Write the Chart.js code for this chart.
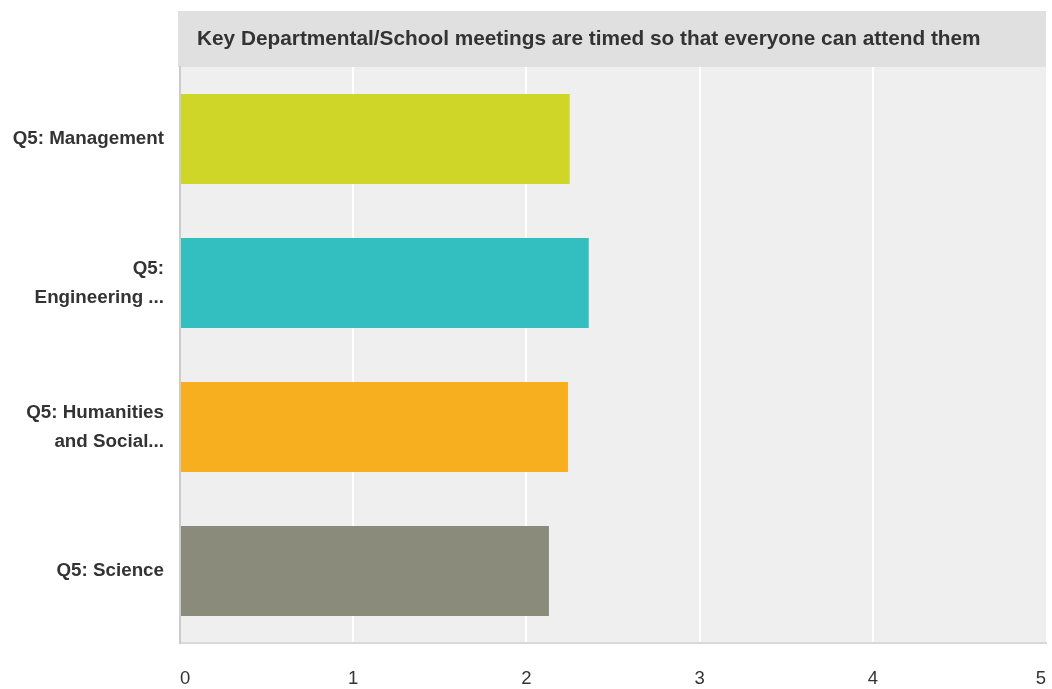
<!DOCTYPE html>
<html>
<head>
<meta charset="utf-8">
<script src="https://cdn.jsdelivr.net/npm/chart.js@4"></script>
<style>
  html, body { margin: 0; padding: 0; background: #fff; }
  #wrap { width: 1052px; height: 689px; }
</style>
</head>
<body>
<div id="wrap"><canvas id="myChart" width="1052" height="689"></canvas></div>
<script>
const chartTitle = 'Key Departmental/School meetings are timed so that everyone can attend them';
const categories = [
    ['Q5: Management'],
    ['Q5:', 'Engineering ...'],
    ['Q5: Humanities', 'and Social...'],
    ['Q5: Science']
];
const averages = [2.25, 2.36, 2.24, 2.13];
const xTicks = [0, 1, 2, 3, 4, 5];

const barColors = ['#cfd628', '#33bebf', '#f7af1f', '#8a8b7a'];
const fontFamily = '"Liberation Sans", Arial, Helvetica, sans-serif';

// grey title band + plot background, and keep the end tick labels inside the plot
const backdrop = {
    id: 'backdrop',
    beforeDraw(chart) {
        const { ctx, chartArea: a } = chart;
        ctx.save();
        ctx.fillStyle = '#e0e0e0';
        ctx.fillRect(a.left - 2, 11, a.right - a.left + 2, a.top - 11);
        ctx.fillStyle = '#efefef';
        ctx.fillRect(a.left, a.top, a.right - a.left, a.bottom - a.top);
        ctx.fillStyle = '#333333';
        ctx.font = 'bold 20.8px ' + fontFamily;
        ctx.textBaseline = 'middle';
        ctx.textAlign = 'left';
        ctx.fillText(chartTitle, a.left + 17, 39);
        ctx.restore();

        const items = chart.scales.x.getLabelItems(a);
        if (items.length) {
            items[0].options.textAlign = 'left';
            items[items.length - 1].options.textAlign = 'right';
        }
    }
};

document.addEventListener("DOMContentLoaded", function () {
    const ctx = document.getElementById('myChart').getContext('2d');

    new Chart(ctx, {
        type: 'bar',
        data: {
            labels: categories,
            datasets: [{
                data: averages,
                backgroundColor: barColors,
                borderWidth: 0,
                categoryPercentage: 1,
                barPercentage: 0.625
            }]
        },
        options: {
            indexAxis: 'y',
            responsive: false,
            animation: false,
            layout: { padding: { top: 67, right: 6, left: 0, bottom: 0 } },
            plugins: {
                legend: { display: false },
                tooltip: { enabled: false },
                title: { display: false }
            },
            scales: {
                x: {
                    min: xTicks[0],
                    max: xTicks[xTicks.length - 1],
                    afterBuildTicks(scale) {
                        scale.ticks = xTicks.map(v => ({ value: v }));
                    },
                    afterFit(scale) {
                        scale.height = 46;
                        scale.paddingLeft = 0;
                        scale.paddingRight = 6;
                    },
                    ticks: {
                        color: '#333333',
                        padding: 25,
                        font: { family: fontFamily, size: 18.5 }
                    },
                    grid: {
                        drawTicks: false,
                        lineWidth: 2,
                        color: c => (c.tick && (c.tick.value === 0 || c.tick.value === 5)) ? 'rgba(0,0,0,0)' : '#ffffff'
                    },
                    border: { color: '#d9d9d9', width: 2 }
                },
                y: {
                    afterFit(scale) { scale.width = 180; },
                    ticks: {
                        color: '#333333',
                        padding: 16,
                        font: { family: fontFamily, size: 18.8, weight: 'bold', lineHeight: 1.55 }
                    },
                    grid: { display: false, drawTicks: false },
                    border: { color: '#cccccc', width: 2 }
                }
            }
        },
        plugins: [backdrop]
    });
});
</script>
</body>
</html>
